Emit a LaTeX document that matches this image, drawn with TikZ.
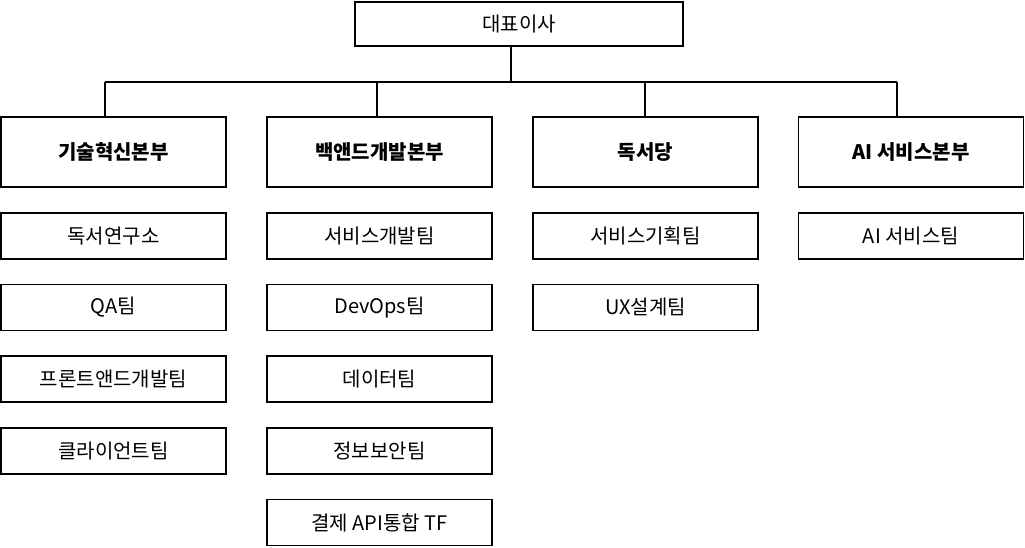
\documentclass[tikz,border=0pt]{standalone}
\usepackage{fontspec}
\setmainfont{Noto Sans CJK KR}
\tikzset{
every picture/.style={
line width=1.5pt
}}
\tikzset{
  unitbox/.style={draw, minimum width=225pt, minimum height=46pt, inner sep=0pt, font=\fontsize{20}{24}\selectfont},
  headbox/.style={draw, minimum width=225pt, minimum height=70pt, inner sep=0pt, font=\fontsize{20}{24}\selectfont\bfseries},
}
\begin{document}
\begin{tikzpicture}[x=1pt,y=-1pt]
  \useasboundingbox (0,0) rectangle (1025,548);

  \node (ceo) [unitbox, minimum width=328pt, minimum height=44pt] at (519,24) {대표이사};

  \node (h1) [headbox] at (113.5,152) {기술혁신본부};
  \node (h2) [headbox] at (379.5,152) {백앤드개발본부};
  \node (h3) [headbox] at (645.5,152) {독서당};
  \node (h4) [headbox] at (911,152) {AI 서비스본부};

  \node (a1) [unitbox] at (113.5,236) {독서연구소};
  \node (a2) [unitbox] at (113.5,307.5) {QA팀};
  \node (a3) [unitbox] at (113.5,379) {프론트앤드개발팀};
  \node (a4) [unitbox] at (113.5,451) {클라이언트팀};

  \node (b1) [unitbox] at (379.5,236) {서비스개발팀};
  \node (b2) [unitbox] at (379.5,307.5) {DevOps팀};
  \node (b3) [unitbox] at (379.5,379) {데이터팀};
  \node (b4) [unitbox] at (379.5,451) {정보보안팀};
  \node (b5) [unitbox] at (379.5,522.5) {결제 API통합 TF};

  \node (c1) [unitbox] at (645.5,236) {서비스기획팀};
  \node (c2) [unitbox] at (645.5,307.5) {UX설계팀};

  \node (d1) [unitbox] at (911,236) {AI 서비스팀};

  \coordinate (bar) at (511,82);
  \coordinate (barl) at (105,82);
  \coordinate (barr) at (897,82);

  \draw (ceo.south -| bar) -- (bar);
  \draw (barl) -- (barr);
  \draw (barl) -- (barl |- h1.north);
  \draw (377,82) -- (377,117);
  \draw (645,82) -- (645,117);
  \draw (barr) -- (barr |- h4.north);

\end{tikzpicture}
\end{document}
